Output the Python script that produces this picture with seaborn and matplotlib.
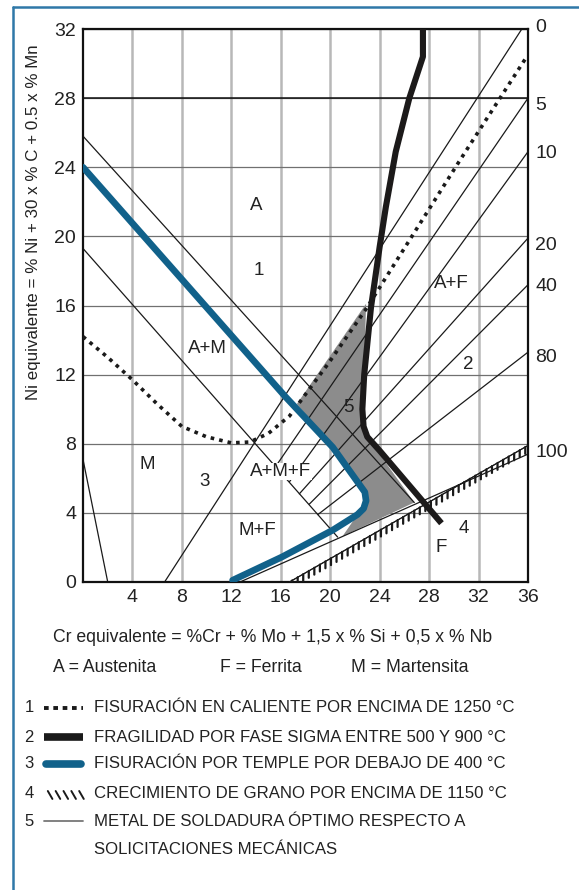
import matplotlib
matplotlib.use("Agg")
import matplotlib.pyplot as plt
import matplotlib.patheffects as pe
from matplotlib.lines import Line2D
from matplotlib.patches import Polygon
import seaborn as sns
import pandas as pd

# ---------------- data ----------------
cr_ticks = [4, 8, 12, 16, 20, 24, 28, 32, 36]
ni_ticks = [0, 4, 8, 12, 16, 20, 24, 28, 32]

# 1: hot cracking above 1250 °C (dotted)
hot_cr = [0, 2, 4, 6, 8, 10, 12, 13.5, 15, 16.7, 19.9, 22.9, 30.4, 35.9]
hot_ni = [14.2, 13.0, 11.7, 10.3, 9.0, 8.4, 8.05, 8.1, 8.6, 9.6, 12.7, 15.8, 24.3, 30.4]

# 2: sigma phase embrittlement 500-900 °C (thick black)
sigma_cr = [27.5, 27.5, 26.4, 25.3, 24.5, 24.0, 23.3, 22.75, 22.6, 22.7, 23.0, 24.0, 29.0]
sigma_ni = [32.0, 30.4, 28.0, 24.9, 21.7, 19.4, 15.9, 12.0, 10.0, 9.0, 8.4, 7.6, 3.4]

# 3: quench cracking below 400 °C (blue)
quench_cr = [0, 16.4, 20.2, 22.3, 22.8, 22.9, 22.7, 22.2, 20.2, 16.1, 12.1]
quench_ni = [24.0, 10.7, 7.8, 5.7, 5.2, 4.7, 4.25, 3.9, 3.0, 1.45, 0.1]

# 4: grain growth above 1150 °C (hatched)
grain_cr = [16.7, 36.0]
grain_ni = [0.0, 7.9]

# phase boundaries (start/end of each straight segment)
bound_cr0 = [0.0, 0.0, 0.0]
bound_ni0 = [25.8, 19.3, 7.1]
bound_cr1 = [26.8, 20.6, 2.0]
bound_ni1 = [4.6, 2.6, 0.0]

# iso-ferrite lines
ferrite_labels = ["0", "5", "10", "20", "40", "80", "100"]
ferrite_cr0 = [6.6, 15.6, 16.7, 17.5, 18.3, 19.0, 12.7]
ferrite_ni0 = [0.0, 6.7, 5.8, 5.1, 4.5, 3.9, 0.0]
ferrite_cr1 = [35.5, 36.0, 36.0, 36.0, 36.0, 36.0, 36.0]
ferrite_ni1 = [32.0, 28.0, 24.9, 19.9, 17.2, 13.3, 7.4]
ferrite_label_ni = [32.1, 27.6, 24.8, 19.5, 17.1, 13.0, 7.5]

# 5: optimum weld metal zone
optimum_cr = [22.9, 22.75, 22.6, 22.7, 23.0, 26.8, 21.0, 22.2, 22.7, 22.9, 22.8, 22.3, 20.2, 17.3]
optimum_ni = [16.1, 12.0, 10.0, 9.0, 8.4, 4.6, 2.65, 3.9, 4.25, 4.7, 5.2, 5.7, 7.8, 10.3]

# region labels
region_text = ["A", "1", "A+M", "M", "3", "A+M+F", "M+F", "5", "A+F", "2", "4", "F"]
region_cr = [14.0, 14.2, 10.1, 5.2, 9.8, 16.0, 14.1, 21.5, 29.8, 31.2, 30.8, 29.0]
region_ni = [21.8, 18.0, 13.5, 6.8, 5.8, 6.4, 3.0, 10.1, 17.3, 12.6, 3.1, 2.0]

legend_num = ["1", "2", "3", "4", "5"]
legend_txt = [
    "FISURACIÓN EN CALIENTE POR ENCIMA DE 1250 °C",
    "FRAGILIDAD POR FASE SIGMA ENTRE 500 Y 900 °C",
    "FISURACIÓN POR TEMPLE POR DEBAJO DE 400 °C",
    "CRECIMIENTO DE GRANO POR ENCIMA DE 1150 °C",
    "METAL DE SOLDADURA ÓPTIMO RESPECTO A",
]
legend_txt2 = "SOLICITACIONES MECÁNICAS"

# ---------------- style ----------------
sns.set_theme(style="white")
plt.rcParams["font.family"] = ["Liberation Sans", "DejaVu Sans"]

BLUE = "#11618a"
FRAME = "#2f78a8"
INK = "#222222"
W, H = 579, 890


def fx(x):
    return x / W


def fy(y):
    return 1 - y / H


fig = plt.figure(figsize=(W / 100, H / 100), dpi=100)
fig.patch.set_facecolor("white")

# outer frame (left and top edges)
fig.add_artist(Line2D([fx(13), fx(13)], [fy(7), fy(H + 5)], color=FRAME, lw=1.8))
fig.add_artist(Line2D([fx(13), fx(W + 5)], [fy(7), fy(7)], color=FRAME, lw=1.8))

ax = fig.add_axes([fx(83), fy(582), (528 - 83) / W, (582 - 29) / H])

# optimum zone
ax.add_patch(Polygon(list(zip(optimum_cr, optimum_ni)), closed=True,
                     facecolor="#8c8c8c", edgecolor="none", zorder=1))

# phase boundaries and ferrite lines
seg_rows = []
for i in range(len(bound_cr0)):
    seg_rows += [("b%d" % i, bound_cr0[i], bound_ni0[i]), ("b%d" % i, bound_cr1[i], bound_ni1[i])]
for i in range(len(ferrite_cr0)):
    seg_rows += [("f%d" % i, ferrite_cr0[i], ferrite_ni0[i]), ("f%d" % i, ferrite_cr1[i], ferrite_ni1[i])]
segs = pd.DataFrame(seg_rows, columns=["seg", "cr", "ni"])
sns.lineplot(data=segs, x="cr", y="ni", units="seg", estimator=None, sort=False,
             color="#1a1a1a", lw=0.9, ax=ax, zorder=2)

# grain growth line: thin line with ticks
sns.lineplot(x=grain_cr, y=grain_ni, sort=False, estimator=None, color="#1a1a1a", lw=0.8,
             ax=ax, zorder=3,
             path_effects=[pe.withTickedStroke(angle=-120, spacing=4.5, length=1.1, linewidth=1.6),
                           pe.Normal()])

# hot cracking
sns.lineplot(x=hot_cr, y=hot_ni, sort=False, estimator=None, color="#1a1a1a", lw=2.6,
             linestyle=(0, (1.0, 1.4)), ax=ax, zorder=4)

# quench cracking
sns.lineplot(x=quench_cr, y=quench_ni, sort=False, estimator=None, color=BLUE, lw=4.8,
             solid_capstyle="round", solid_joinstyle="round", ax=ax, zorder=5)

# sigma phase
sns.lineplot(x=sigma_cr, y=sigma_ni, sort=False, estimator=None, color="#1c1a1a", lw=4.4,
             solid_capstyle="butt", solid_joinstyle="round", ax=ax, zorder=6)

ax.set_xlim(0, 36)
ax.set_ylim(0, 32)
ax.set_xticks(cr_ticks)
ax.set_yticks(ni_ticks)
ax.xaxis.grid(True, color="#b8b8b8", lw=1.8, zorder=0)
ax.yaxis.grid(True, color="#707070", lw=0.9, zorder=0)
ax.set_axisbelow(True)
ax.tick_params(length=0, labelsize=14, colors=INK, pad=5)
for s in ax.spines.values():
    s.set_color("#111111")
    s.set_linewidth(1.6)
ax.axhline(28, color="#111111", lw=1.1, zorder=1)
ax.set_xlabel("")
ax.set_ylabel("")

for t, x, y in zip(region_text, region_cr, region_ni):
    box = dict(facecolor="white", edgecolor="none", pad=0.3) if t == "A+M+F" else None
    ax.text(x, y, t, ha="center", va="center", fontsize=13.5, color=INK, zorder=7, bbox=box)

for t, y in zip(ferrite_labels, ferrite_label_ni):
    ax.text(36.6, y, t, ha="left", va="center", fontsize=14, color=INK, clip_on=False)

fig.text(fx(34), fy(222), "Ni equivalente = % Ni + 30 x % C + 0.5 x % Mn", rotation=90,
         ha="center", va="center", fontsize=12.2, color=INK)

fig.text(fx(53), fy(637), "Cr equivalente = %Cr + % Mo + 1,5 x % Si + 0,5 x % Nb",
         ha="left", va="center", fontsize=12.7, color=INK)
fig.text(fx(53), fy(667), "A = Austenita", ha="left", va="center", fontsize=12.7, color=INK)
fig.text(fx(220), fy(667), "F = Ferrita", ha="left", va="center", fontsize=12.7, color=INK)
fig.text(fx(351), fy(667), "M = Martensita", ha="left", va="center", fontsize=12.7, color=INK)

# legend rows
rows_y = [708, 737, 764, 793, 821]
for n, t, y in zip(legend_num, legend_txt, rows_y):
    fig.text(fx(29), fy(y), n, ha="center", va="center", fontsize=12, color=INK)
    fig.text(fx(94), fy(y), t, ha="left", va="center", fontsize=12.1, color=INK)
fig.text(fx(94), fy(849), legend_txt2, ha="left", va="center", fontsize=12.1, color=INK)

sx = [fx(44), fx(83)]
fig.add_artist(Line2D(sx, [fy(708)] * 2, color="#1a1a1a", lw=2.8, linestyle=(0, (1.2, 1.2))))
fig.add_artist(Line2D(sx, [fy(737)] * 2, color="#1a1a1a", lw=5.5, solid_capstyle="butt"))
fig.add_artist(Line2D([fx(46), fx(81)], [fy(764)] * 2, color=BLUE, lw=5.5, solid_capstyle="round"))
fig.add_artist(Line2D(sx, [fy(791)] * 2, color="#1a1a1a", lw=0.0,
                      path_effects=[pe.withTickedStroke(angle=-60, spacing=5.5, length=1.2, linewidth=1.4)]))
fig.add_artist(Line2D(sx, [fy(821)] * 2, color="#777777", lw=1.3))

fig.savefig("out.png", dpi=100, facecolor="white")
